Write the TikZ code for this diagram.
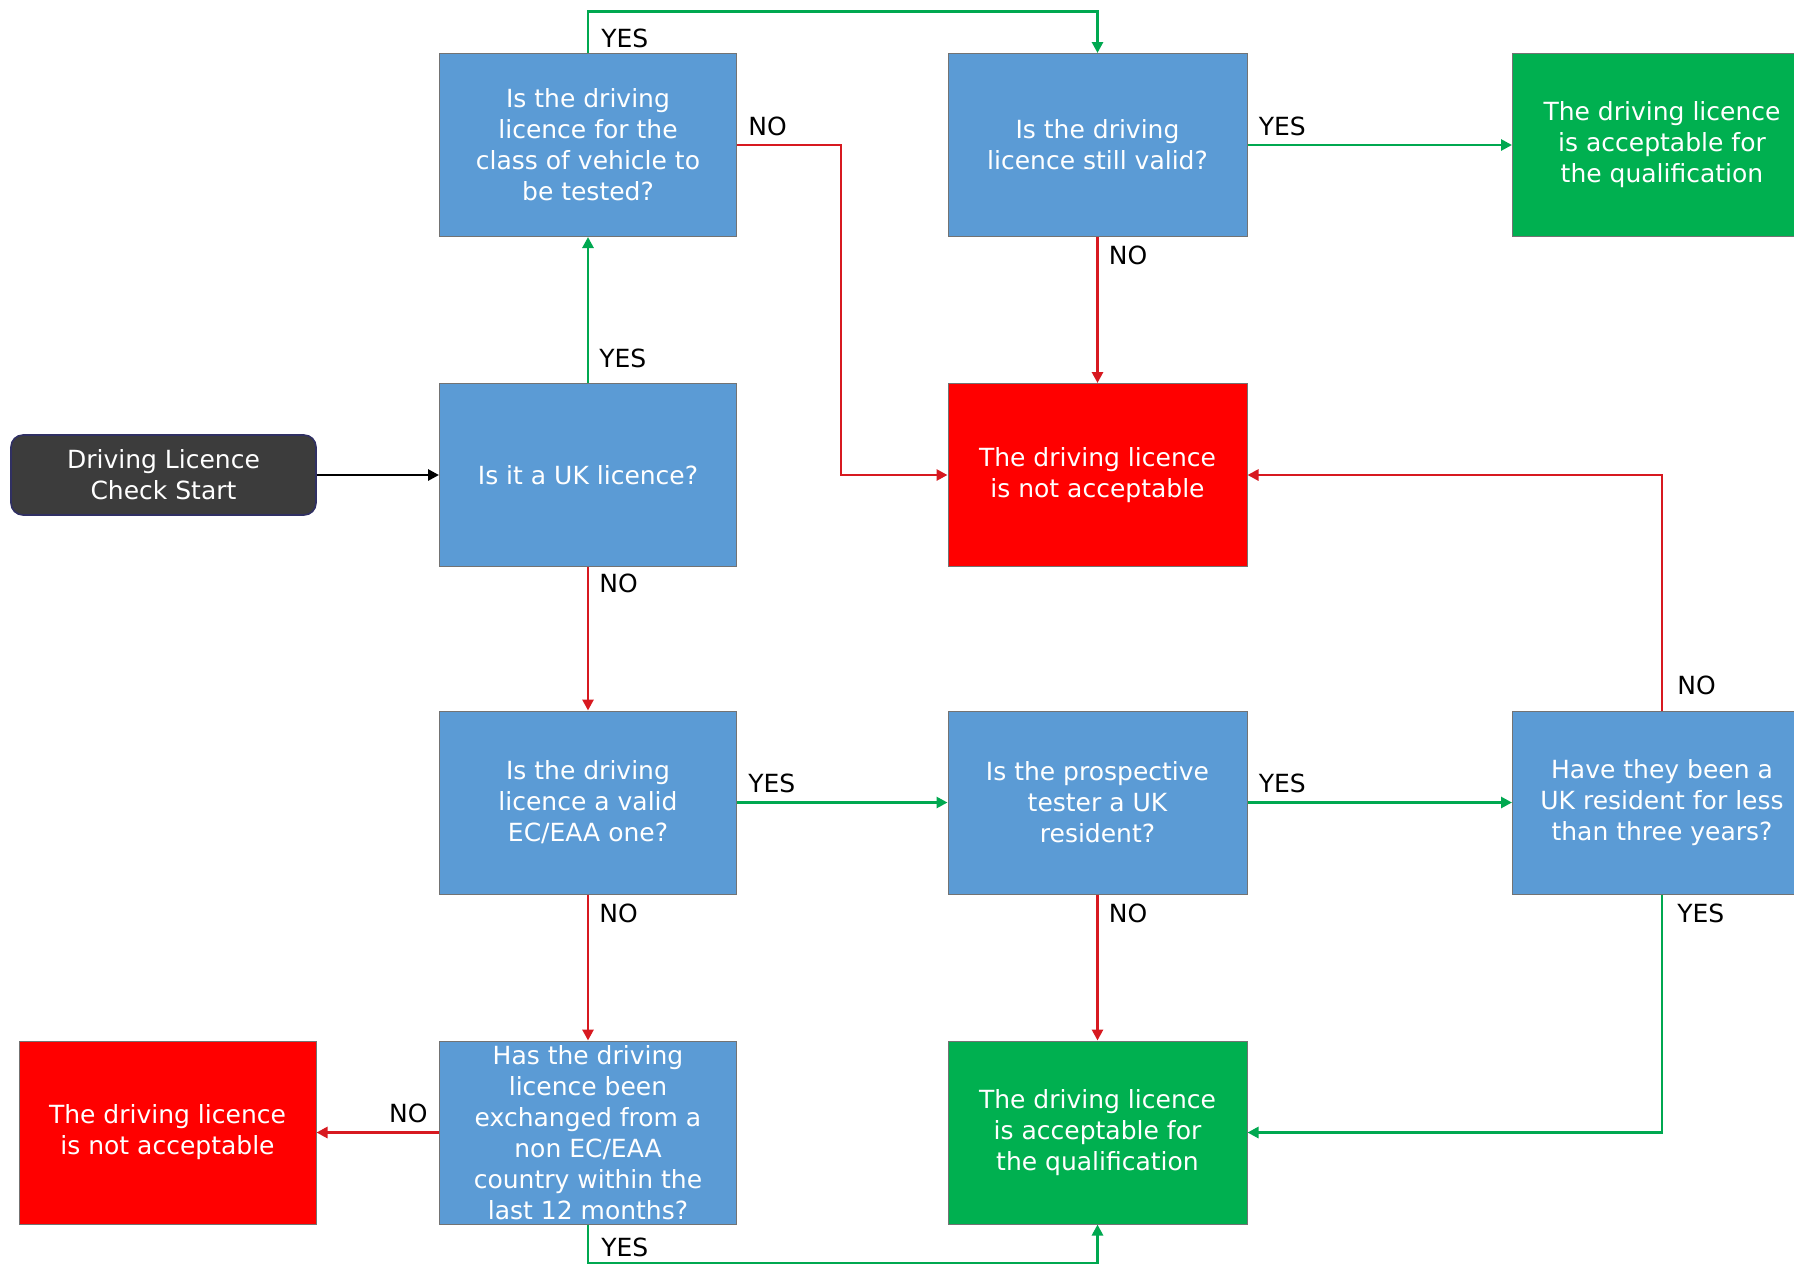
\documentclass[tikz,border=0pt]{standalone}
\usepackage{fontspec}
\setmainfont{DejaVu Sans}
\usetikzlibrary{arrows.meta}

\definecolor{qblue}{RGB}{91,155,213}
\definecolor{okgreen}{RGB}{0,176,80}
\definecolor{badred}{RGB}{255,0,0}
\definecolor{linered}{RGB}{215,25,32}
\definecolor{linegreen}{RGB}{0,168,80}
\definecolor{startgrey}{RGB}{60,60,60}

\newlength{\px}
\setlength{\px}{0.5pt}

\begin{document}
\begin{tikzpicture}

% styles
\pgfkeys{/tikz/every path/.style={-{Triangle[length=5.5pt, width=5.5pt]}, line width=1.4pt}} % arrowheads
\pgfkeys{/box/.style={draw=black!55, line width=0.5pt, text=white, align=center, minimum width=149\px, minimum height=183\px, inner sep=2pt, node font=\fontsize{12.5}{15.5}\selectfont}} % base style for boxes
\pgfkeys{/ask/.style={/box, fill=qblue}} % questions
\pgfkeys{/good/.style={/box, fill=okgreen}} % acceptable
\pgfkeys{/bad/.style={/box, fill=badred}} % not acceptable
\pgfkeys{/go/.style={draw=startgrey!80!blue, fill=startgrey, rounded corners=6pt, line width=0.8pt, text=white, align=center, minimum width=305\px, minimum height=80\px, node font=\fontsize{12.5}{15.5}\selectfont}} % start
\pgfkeys{/lbl/.style={text=black, inner sep=1pt, node font=\fontsize{12.5}{15}\selectfont}} % YES / NO
\pgfkeys{/yes/.style={draw=linegreen}}
\pgfkeys{/no/.style={draw=linered}}

\useasboundingbox (0,0) rectangle (1794\px,-1266\px);

% columns and rows
\coordinate (c1) at (588\px,0);
\coordinate (c2) at (1097.5\px,0);
\coordinate (c3) at (1662\px,0);
\coordinate (r1) at (0,-145\px);
\coordinate (r2) at (0,-475\px);
\coordinate (r3) at (0,-802.5\px);
\coordinate (r4) at (0,-1132.5\px);

% nodes
\node[/go] (start) at (163.5\px,-475\px) {Driving Licence\\Check Start};
\node[/ask, minimum width=297\px] (uk) at (c1|-r2) {Is it a UK licence?};
\node[/ask, minimum width=297\px] (class) at (c1|-r1) {Is the driving\\licence for the\\class of vehicle to\\be tested?};
\node[/ask, minimum width=299\px] (valid) at (c2|-r1) {Is the driving\\licence still valid?};
\node[/good, minimum width=299\px] (ok1) at (c3|-r1) {The driving licence\\is acceptable for\\the qualification};
\node[/bad, minimum width=299\px] (notok1) at (c2|-r2) {The driving licence\\is not acceptable};
\node[/ask, minimum width=297\px] (ec) at (c1|-r3) {Is the driving\\licence a valid\\EC/EAA one?};
\node[/ask, minimum width=299\px] (tester) at (c2|-r3) {Is the prospective\\tester a UK\\resident?};
\node[/ask, minimum width=299\px] (years) at (c3|-r3) {Have they been a\\UK resident for less\\than three years?};
\node[/ask, minimum width=297\px, inner sep=0pt] (swap) at (c1|-r4) {Has the driving\\licence been\\exchanged from a\\non EC/EAA\\country within the\\last 12 months?};
\node[/good, minimum width=299\px] (ok2) at (c2|-r4) {The driving licence\\is acceptable for\\the qualification};
\node[/bad, minimum width=297\px] (notok2) at (167.5\px,-1132.5\px) {The driving licence\\is not acceptable};

% turning points
\coordinate (top) at (0,-11.5\px);
\coordinate (bot) at (0,-1263\px);
\coordinate (bend) at (841\px,0);

% connectors
\draw (start) -- (uk);
\draw[/yes] (uk) -- (class) node[/lbl, pos=0, anchor=south west, xshift=4pt, yshift=6pt] {YES};
\draw[/yes] (class.north) |- (top-|c2) -- (valid.north);
\node[/lbl, anchor=south west] (lyes1) at ([xshift=5pt,yshift=1pt]class.north) {YES};
\draw[/no] (class.east) -| (bend|-notok1.west) -- (notok1.west);
\node[/lbl, anchor=south west] (lno1) at ([xshift=4pt,yshift=3pt]class.east) {NO};
\draw[/yes] (valid) -- (ok1) node[/lbl, pos=0, anchor=south west, xshift=4pt, yshift=3pt] {YES};
\draw[/no] (valid) -- (notok1) node[/lbl, pos=0, anchor=north west, xshift=4pt, yshift=-3pt] {NO};
\draw[/no] (uk) -- (ec) node[/lbl, pos=0, anchor=north west, xshift=4pt, yshift=-2pt] {NO};
\draw[/yes] (ec) -- (tester) node[/lbl, pos=0, anchor=south west, xshift=4pt, yshift=3pt] {YES};
\draw[/no] (ec) -- (swap) node[/lbl, pos=0, anchor=north west, xshift=4pt, yshift=-3pt] {NO};
\draw[/no] (swap) -- (notok2) node[/lbl, pos=0, anchor=south east, xshift=-4pt, yshift=3pt] {NO};
\draw[/yes] (swap.south) |- (bot-|c2) -- (ok2.south);
\node[/lbl, anchor=north west] (lyes2) at ([xshift=5pt,yshift=-5pt]swap.south) {YES};
\draw[/yes] (tester) -- (years) node[/lbl, pos=0, anchor=south west, xshift=4pt, yshift=3pt] {YES};
\draw[/no] (tester) -- (ok2) node[/lbl, pos=0, anchor=north west, xshift=4pt, yshift=-3pt] {NO};
\draw[/no] (years.north) |- (notok1.east);
\node[/lbl, anchor=south west] (lno2) at ([xshift=6pt,yshift=6pt]years.north) {NO};
\draw[/yes] (years.south) |- (ok2.east);
\node[/lbl, anchor=north west] (lyes3) at ([xshift=6pt,yshift=-3pt]years.south) {YES};

\end{tikzpicture}
\end{document}
